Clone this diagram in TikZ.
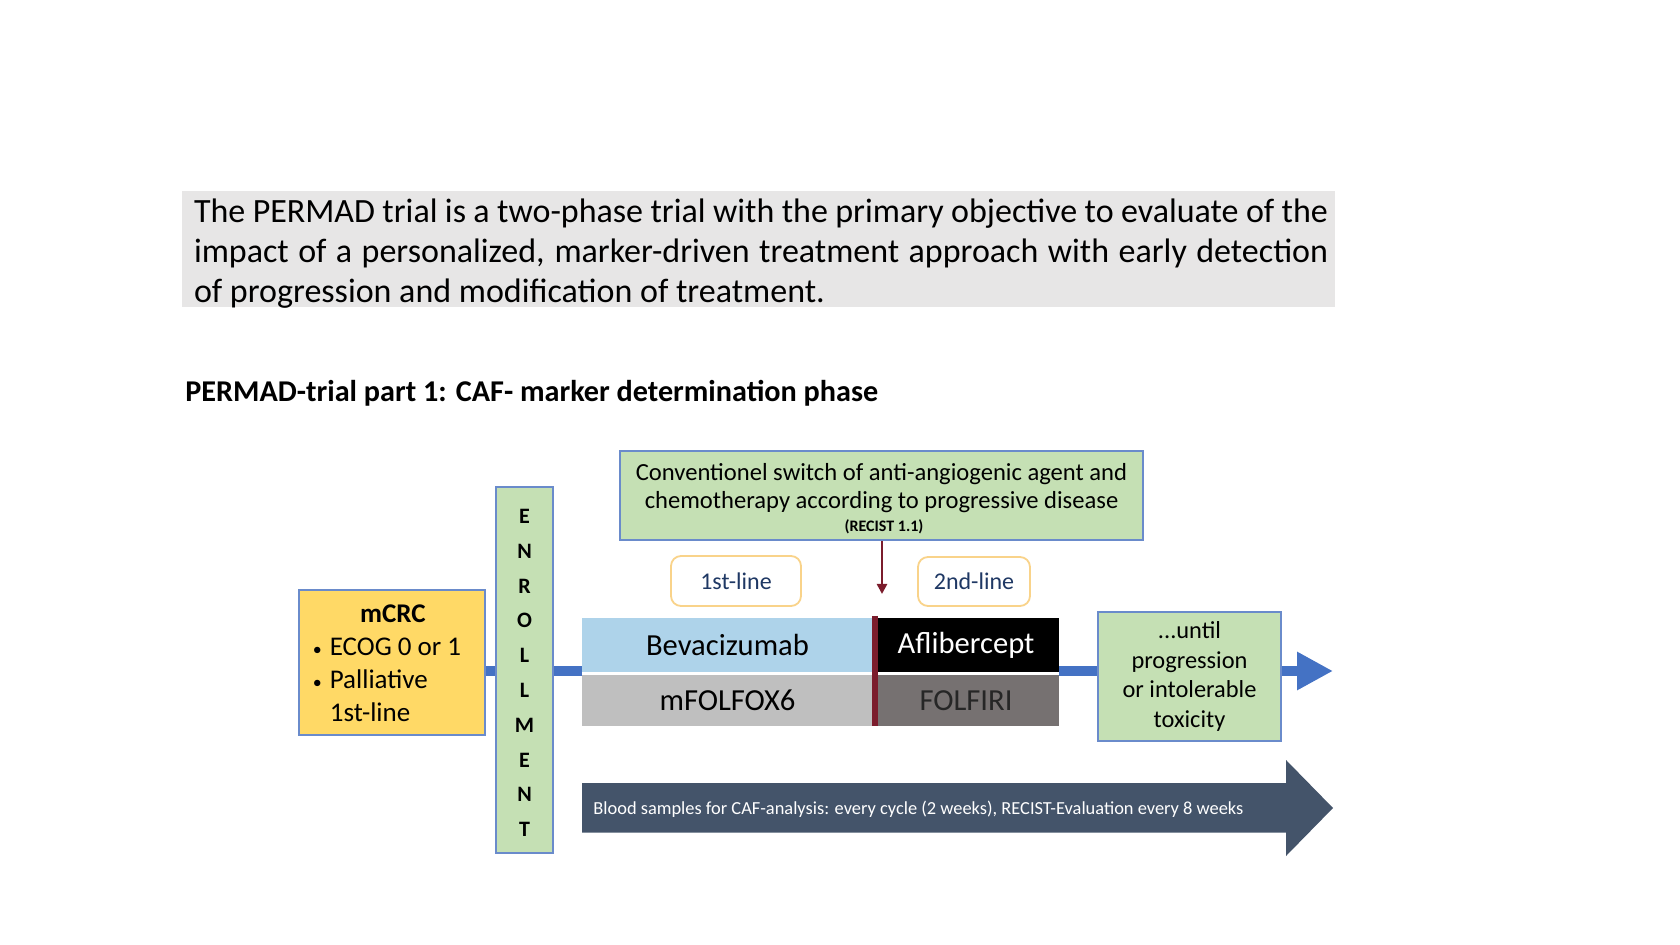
\documentclass[tikz,border=0pt]{standalone}
\usepackage{fontspec}
\setmainfont{Carlito}
\usetikzlibrary{arrows.meta,positioning}
\definecolor{boxgray}{HTML}{E7E6E6}
\definecolor{lgreen}{HTML}{C5E0B4}
\definecolor{bordblue}{HTML}{6A8BCB}
\definecolor{myellow}{HTML}{FFD966}
\definecolor{lblue}{HTML}{AED3EA}
\definecolor{mgray}{HTML}{BFBFBF}
\definecolor{dgray}{HTML}{767171}
\definecolor{dred}{HTML}{7B1C2C}
\definecolor{slate}{HTML}{44546A}
\definecolor{cblue}{HTML}{4472C4}
\definecolor{gold}{HTML}{F9D38A}
\definecolor{navy}{HTML}{1F3864}
\tikzset{
  greenbox/.style={draw=bordblue, line width=0.9pt, fill=lgreen, inner sep=0pt, align=center},
  tagbox/.style={draw=gold, line width=0.9pt, fill=white, rounded corners=5pt, inner sep=0pt, text=navy, font=\fontsize{12}{14}\selectfont},
  drugbox/.style={inner sep=0pt, font=\fontsize{15.3}{18}\selectfont},
  conn/.style={cblue, line width=5pt},
}
\begin{document}
\begin{tikzpicture}[x=0.5pt,y=-0.5pt]
\useasboundingbox (0,0) rectangle (1680,945);
% intro box
\node[fill=boxgray, minimum width=576.5pt, minimum height=58pt, inner sep=0pt] (intro) at (758.5,249) {};
\node[inner sep=0pt, align=left, font=\fontsize{17}{20.1}\selectfont] (introtext) at (761,253.5)
  {\makebox[567pt][s]{The PERMAD trial is a two-phase trial with the primary objective to evaluate of the}\\
   \makebox[567pt][s]{impact of a personalized, marker-driven treatment approach with early detection}\\
   \makebox[567pt][l]{of progression and modification of treatment.}};
% title
\node[anchor=west, inner sep=0pt, font=\fontsize{15.1}{18}\selectfont\bfseries] (title) at (185,393) {PERMAD-trial part 1: CAF- marker determination phase};
% connectors (behind)
\node[fill=myellow, draw=bordblue, line width=0.9pt, minimum width=93pt, minimum height=72.5pt, inner sep=0pt] (mcrc) at (392,662.5) {};
\node[greenbox, minimum width=28.5pt, minimum height=183pt] (enroll) at (524.5,670) {};
\coordinate (barin) at (582,671);
\draw[conn] (mcrc.east |- barin) -- (enroll.west |- barin);
\draw[conn] (enroll.east |- barin) -- (barin);
% mCRC text
\node[inner sep=0pt, font=\fontsize{13.5}{16.5}\selectfont] (mcrctext) at (387,665)
  {\begin{tabular}{@{}l@{\hspace{4pt}}l@{}}\multicolumn{2}{c}{\hspace{6pt}\bfseries mCRC}\\ {\small\textbullet} & ECOG 0 or 1\\ {\small\textbullet} & Palliative\\ & 1st-line\end{tabular}};
% enrollment letters
\node[inner sep=0pt, align=center, font=\fontsize{11}{17.4}\selectfont\bfseries] (enrolltext) at (524.5,673)
  {E\\N\\R\\O\\L\\L\\M\\E\\N\\T};
% drug blocks
\node[drugbox, fill=lblue, minimum width=145.5pt, minimum height=27pt] (bev) at (727.5,645) {Bevacizumab};
\node[drugbox, fill=mgray, minimum width=145.5pt, minimum height=25.5pt] (mfol) at (727.5,700.5) {mFOLFOX6};
\node[drugbox, fill=black, text=white, minimum width=93pt, minimum height=27pt] (afl) at (966,645) {Aflibercept};
\node[drugbox, fill=dgray, text=black!85, minimum width=93pt, minimum height=25.5pt] (folf) at (966,700.5) {FOLFIRI};
\coordinate (redtop) at (875,616);
\coordinate (redbot) at (875,726);
\draw[dred, line width=3pt] (redtop) -- (redbot);
% tags
\node[tagbox, minimum width=65pt, minimum height=25pt] (first) at (736,581) {1st-line};
\node[tagbox, minimum width=56pt, minimum height=24.5pt] (second) at (974,581.5) {2nd-line};
% conventional switch box
\node[greenbox, minimum width=261.5pt, minimum height=44.5pt] (conv) at (881.5,495.5) {};
\node[inner sep=0pt, align=center, font=\fontsize{12.3}{14}\selectfont] (convtext) at (881.5,488)
  {Conventionel switch of anti-angiogenic agent and\\chemotherapy according to progressive disease};
\node[inner sep=0pt, font=\fontsize{8}{9}\selectfont\bfseries] (recist) at (884,527) {(RECIST 1.1)};
\coordinate (redtip) at (882,594);
\draw[dred, line width=1.3pt, -{Triangle[length=5pt,width=5pt]}] (conv.south -| redtip) -- (redtip);
% until box
\node[greenbox, minimum width=91.5pt, minimum height=64.5pt, font=\fontsize{12.2}{14.85}\selectfont] (until) at (1189.5,676.5)
  {...until\\progression\\or intolerable\\toxicity};
\draw[conn] (afl.east |- barin) -- (until.west |- barin);
\coordinate (blueend) at (1333,671);
\draw[conn, -{Triangle[length=18pt,width=18pt]}] (until.east |- barin) -- (blueend);
% blood sample arrow
\fill[slate] (582,783) -- (1286,783) -- (1286,760) -- (1333,808) -- (1286,856) -- (1286,832.5) -- (582,832.5) -- cycle;
\node[anchor=west, inner sep=0pt, text=white, font=\fontsize{9.2}{11}\selectfont] (blood) at (593,809)
  {Blood samples for CAF-analysis: every cycle (2 weeks), RECIST-Evaluation every 8 weeks};
\end{tikzpicture}
\end{document}
